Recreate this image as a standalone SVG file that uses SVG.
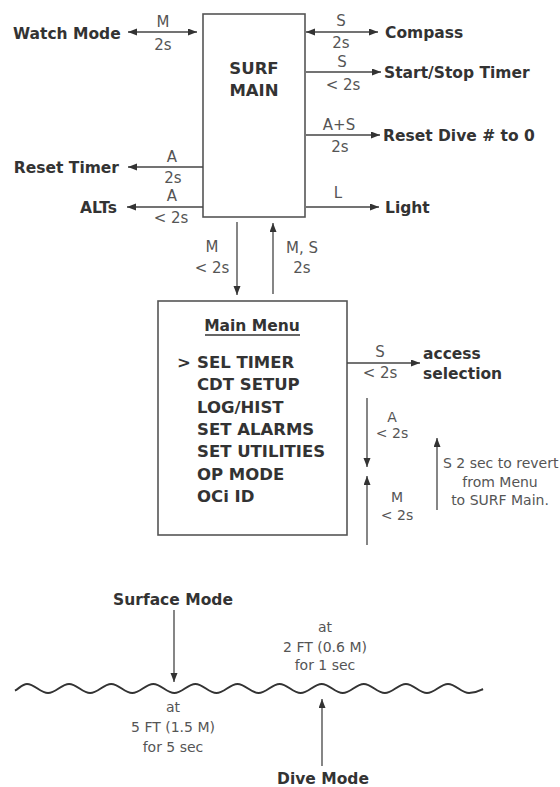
<svg xmlns="http://www.w3.org/2000/svg" width="560" height="787" viewBox="0 0 560 787">
<style>
.b{font-family:"DejaVu Sans","Liberation Sans",sans-serif;font-weight:bold;font-size:15.5px;fill:#333}
.m{font-family:"DejaVu Sans","Liberation Sans",sans-serif;font-weight:bold;font-size:16.5px;fill:#333}
.s{font-family:"DejaVu Sans","Liberation Sans",sans-serif;font-size:14px;fill:#555}
.k{font-family:"DejaVu Sans","Liberation Sans",sans-serif;font-size:15px;fill:#555}
.c{text-anchor:middle}
.e{text-anchor:end}
.box{fill:#fff;stroke:#555;stroke-width:1.6}
.ln{stroke:#444;stroke-width:1.3;fill:none}
.one{marker-end:url(#ah)}
.two{marker-start:url(#ah);marker-end:url(#ah)}
.wave{stroke:#333;stroke-width:2;fill:none}
</style>
<defs>
<marker id="ah" markerUnits="userSpaceOnUse" markerWidth="10" markerHeight="8" refX="9" refY="3.5" orient="auto-start-reverse">
<path d="M0,0 L9,3.5 L0,7 z" fill="#333"/>
</marker>
</defs>
<rect width="560" height="787" fill="#fff"/>

<g id="surf-main">
<rect class="box" x="203" y="14" width="102" height="203"/>
<text class="m c" x="254" y="74">SURF</text>
<text class="m c" x="254" y="96">MAIN</text>
</g>

<g id="watch-mode"><text class="b" x="13" y="38.5">Watch Mode</text></g>
<g id="compass"><text class="b" x="385" y="37.5">Compass</text></g>
<g id="start-stop-timer"><text class="b" x="384" y="77.5">Start/Stop Timer</text></g>
<g id="reset-dive"><text class="b" x="383" y="140.5">Reset Dive # to 0</text></g>
<g id="reset-timer"><text class="b e" x="119" y="172.5">Reset Timer</text></g>
<g id="alts"><text class="b e" x="117" y="212.5">ALTs</text></g>
<g id="light"><text class="b" x="385" y="212.5">Light</text></g>

<g id="main-menu">
<rect class="box" x="158" y="301" width="189" height="234"/>
<text class="b c" x="252" y="331">Main Menu</text>
<line x1="205" y1="335" x2="300" y2="335" stroke="#333" stroke-width="1.3"/>
<text class="m" x="177" y="368">&gt;</text>
<text class="m" x="197" y="368">SEL TIMER</text>
<text class="m" x="197" y="390.3">CDT SETUP</text>
<text class="m" x="197" y="412.6">LOG/HIST</text>
<text class="m" x="197" y="434.9">SET ALARMS</text>
<text class="m" x="197" y="457.2">SET UTILITIES</text>
<text class="m" x="197" y="479.5">OP MODE</text>
<text class="m" x="197" y="501.8">OCi ID</text>
</g>

<g id="access-selection">
<text class="b" x="423" y="358.5">access</text>
<text class="b" x="423" y="378.5">selection</text>
</g>

<g id="revert-note">
<text class="s" x="443" y="468">S 2 sec to revert</text>
<text class="s c" x="500" y="487">from Menu</text>
<text class="s c" x="500" y="505">to SURF Main.</text>
</g>

<g id="surface-mode"><text class="b c" x="173" y="604.5">Surface Mode</text></g>
<g id="dive-mode"><text class="b c" x="323" y="784">Dive Mode</text></g>

<g id="water-surface">
<path class="wave" d="M15,690.6 C19,688.5 22.5,684 27,684 C34.7,684 40.35,693 48.05,693 S61.4,684 69.1,684 S82.45,693 90.15,693 S103.5,684 111.2,684 S124.55,693 132.25,693 S145.6,684 153.3,684 S166.65,693 174.35,693 S187.7,684 195.4,684 S208.75,693 216.45,693 S229.8,684 237.5,684 S250.85,693 258.55,693 S271.9,684 279.6,684 S292.95,693 300.65,693 S314,684 321.7,684 S335.05,693 342.75,693 S356.1,684 363.8,684 S377.15,693 384.85,693 S398.2,684 405.9,684 S419.25,693 426.95,693 S440.3,684 448,684 S461.35,693 469.05,693 S479,691 483,689"/>
<text class="s c" x="173" y="712">at</text>
<text class="s c" x="173" y="732">5 FT (1.5 M)</text>
<text class="s c" x="173" y="752">for 5 sec</text>
<text class="s c" x="325" y="632">at</text>
<text class="s c" x="325" y="652">2 FT (0.6 M)</text>
<text class="s c" x="325" y="670">for 1 sec</text>
</g>

<g id="connectors">
<line class="ln two" x1="128" y1="32" x2="197" y2="32"/>
<text class="k c" x="163" y="27">M</text>
<text class="k c" x="163" y="50">2s</text>

<line class="ln two" x1="306" y1="32" x2="378" y2="32"/>
<text class="k c" x="341" y="26">S</text>
<text class="k c" x="341" y="48">2s</text>

<line class="ln one" x1="306" y1="72" x2="381" y2="72"/>
<text class="k c" x="342" y="67">S</text>
<text class="k c" x="343" y="90">&lt; 2s</text>

<line class="ln one" x1="306" y1="135" x2="380" y2="135"/>
<text class="k c" x="339" y="130">A+S</text>
<text class="k c" x="340" y="152">2s</text>

<line class="ln one" x1="306" y1="207" x2="379" y2="207"/>
<text class="k c" x="338" y="198">L</text>

<line class="ln one" x1="203" y1="167" x2="128" y2="167"/>
<text class="k c" x="172" y="162">A</text>
<text class="k c" x="173" y="183">2s</text>

<line class="ln one" x1="203" y1="207" x2="127" y2="207"/>
<text class="k c" x="172" y="201">A</text>
<text class="k c" x="171" y="223">&lt; 2s</text>

<line class="ln one" x1="237" y1="222" x2="237" y2="295"/>
<text class="k c" x="212" y="252">M</text>
<text class="k c" x="212" y="273">&lt; 2s</text>

<line class="ln one" x1="273" y1="294" x2="273" y2="223"/>
<text class="k c" x="302" y="253">M, S</text>
<text class="k c" x="302" y="273">2s</text>

<line class="ln one" x1="347" y1="363" x2="420" y2="363"/>
<text class="k c" x="380" y="357">S</text>
<text class="k c" x="380" y="378">&lt; 2s</text>

<line class="ln one" x1="367" y1="398" x2="367" y2="467"/>
<text class="s c" x="392" y="422">A</text>
<text class="s c" x="392" y="438">&lt; 2s</text>

<line class="ln one" x1="367" y1="545" x2="367" y2="476"/>
<text class="s c" x="397" y="502">M</text>
<text class="s c" x="397" y="520">&lt; 2s</text>

<line class="ln one" x1="437" y1="510" x2="437" y2="438"/>

<line class="ln one" x1="174" y1="610" x2="174" y2="682"/>
<line class="ln one" x1="322" y1="766" x2="322" y2="699"/>
</g>
</svg>
